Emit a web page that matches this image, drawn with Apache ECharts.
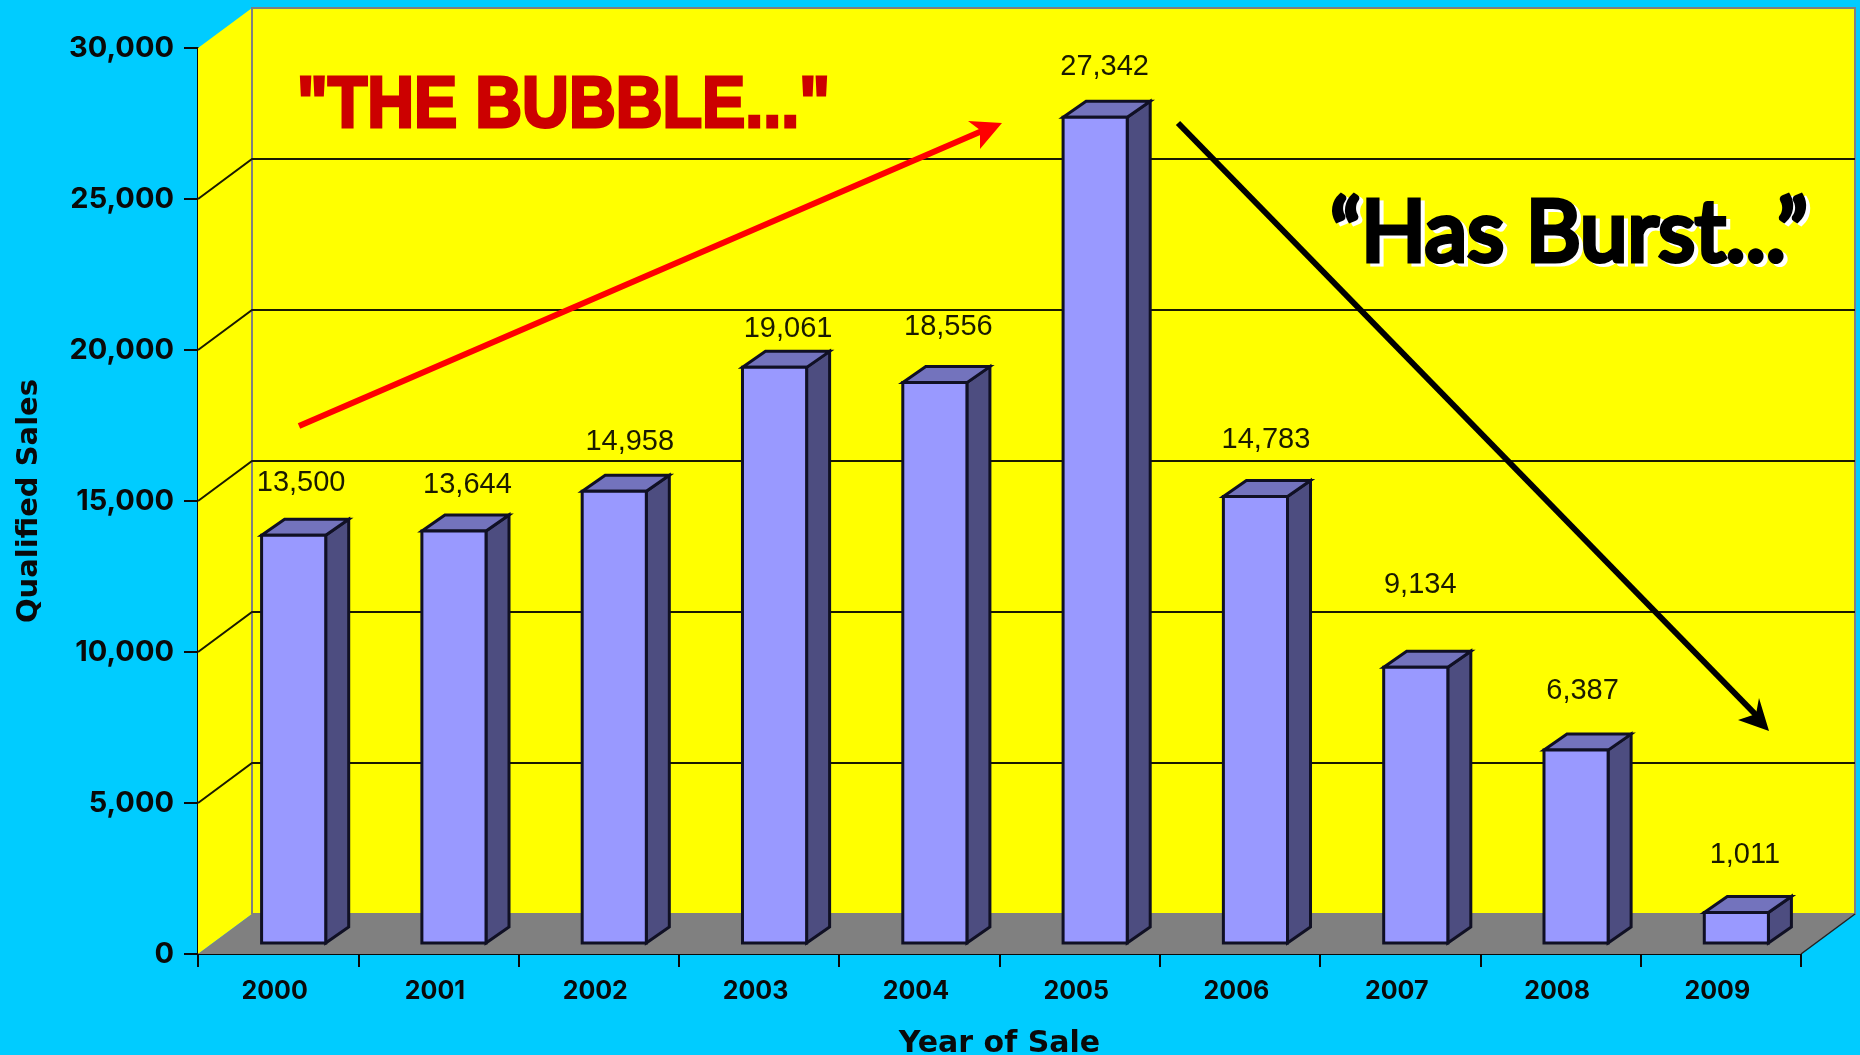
<!DOCTYPE html>
<html>
<head>
<meta charset="utf-8">
<title>Qualified Sales by Year of Sale</title>
<style>html,body{margin:0;padding:0;background:#00ccff}#chart{width:1860px;height:1055px}</style>
<script src="https://cdn.jsdelivr.net/npm/echarts@6/dist/echarts.min.js"></script>
</head>
<body>
<div id="chart"></div>
<script>
// Yearly figures
const years = ['2000','2001','2002','2003','2004','2005','2006','2007','2008','2009'];
const sales = [13500,13644,14958,19061,18556,27342,14783,9134,6387,1011];
const yTicks = [0,5000,10000,15000,20000,25000,30000];

// Hand placement of each value label: sideways shift and lift above the bar's top face
const labelShift = [-4,2,4,2,2,-2,-1,-7,-5,-3];
const labelLift  = [36,30,33,22,40,34,41,66,43,41];

// Pseudo-3D projection of the plot box, in pixels
const depthX = 54, depthY = 40;
const barInsetX = 15, barInsetY = 11, barDepthX = 23, barDepthY = 16;
const edge = '#101024';

function pts(list) { return { points: list }; }

function renderWalls(params, api) {
  const c = params.coordSys;
  const l = c.x, r = c.x + c.width, t = c.y, b = c.y + c.height;
  const wall = { fill: '#ffff00' };
  return { type: 'group', children: [
    { type: 'rect', shape: { x: l + depthX, y: t - depthY, width: c.width, height: c.height }, style: { fill: '#ffff00', stroke: '#808080', lineWidth: 2 } },
    { type: 'polygon', shape: pts([[l, t], [l + depthX, t - depthY], [l + depthX, b - depthY], [l, b]]), style: wall },
    { type: 'line', shape: { x1: l + depthX, y1: t - depthY, x2: l + depthX, y2: b - depthY }, style: { stroke: '#808080', lineWidth: 2 } },
    { type: 'polygon', shape: pts([[l, b], [r, b], [r + depthX, b - depthY], [l + depthX, b - depthY]]), style: { fill: '#808080' } },
    { type: 'line', shape: { x1: r, y1: b, x2: r + depthX, y2: b - depthY }, style: { stroke: '#222', lineWidth: 1.5 } }
  ] };
}

function renderGridLine(params, api) {
  const c = params.coordSys;
  const y = api.coord([0, api.value(1)])[1];
  const l = c.x, r = c.x + c.width;
  return { type: 'polyline', shape: pts([[l, y], [l + depthX, y - depthY], [r + depthX, y - depthY]]),
           style: { stroke: '#1a1a00', lineWidth: 2, fill: null } };
}

function renderBar(params, api) {
  const i = api.value(0);
  const p = api.coord([i, api.value(1)]);
  const base = api.coord([i, 0]);
  const w = api.size([1, 0])[0] * 0.4;
  const x0 = p[0] - w / 2 + barInsetX + 0.5, x1 = x0 + w;
  const yT = p[1] - barInsetY, yB = base[1] - barInsetY;
  const dx = barDepthX, dy = barDepthY;
  const line = { stroke: edge, lineWidth: 3, lineJoin: 'miter' };
  return { type: 'group', children: [
    { type: 'polygon', shape: pts([[x1, yB], [x1 + dx, yB - dy], [x1 + dx, yT - dy], [x1, yT]]), style: { fill: '#4d4d80', ...line } },
    { type: 'polygon', shape: pts([[x0, yT], [x1, yT], [x1 + dx, yT - dy], [x0 + dx, yT - dy]]), style: { fill: '#7373bd', ...line } },
    { type: 'rect', shape: { x: x0, y: yT, width: w, height: yB - yT }, style: { fill: '#9999ff', ...line } },
    { type: 'text', style: {
        x: (x0 + x1) / 2 + dx / 2 + labelShift[i],
        y: yT - dy - labelLift[i],
        text: api.value(1).toLocaleString('en-US'),
        font: '29px "Liberation Sans"', fill: '#1a1a00', align: 'center', verticalAlign: 'middle' } }
  ] };
}

const axisFont = { fontFamily: 'Inter', fontWeight: 700, color: '#0a0a0a' };
const titleFont = { fontFamily: 'DejaVu Sans', fontWeight: 700, color: '#0a0a0a' };
const axisLine = { show: true, lineStyle: { color: '#0a0a0a', width: 2 } };

const chart = echarts.init(document.getElementById('chart'), null, { renderer: 'canvas' });
chart.setOption({
  animation: false,
  backgroundColor: '#00ccff',
  grid: { left: 198, right: 59, top: 48, bottom: 101, outerBoundsMode: 'none' },
  xAxis: {
    type: 'category', data: years, boundaryGap: true,
    name: 'Year of Sale', nameLocation: 'middle', nameGap: 75,
    nameTextStyle: { ...titleFont, fontSize: 30 },
    axisLine, axisTick: { show: true, length: 13, lineStyle: { color: '#0a0a0a', width: 2 } },
    axisLabel: { ...axisFont, fontSize: 25, margin: 25, padding: [0, 7, 0, 0] },
    splitLine: { show: false }
  },
  yAxis: {
    type: 'value', min: 0, max: 30000, interval: 5000,
    name: 'Qualified Sales', nameLocation: 'middle', nameRotate: 90, nameGap: 154,
    nameTextStyle: { ...titleFont, fontSize: 29 },
    axisLine, axisTick: { show: true, length: 14, lineStyle: { color: '#0a0a0a', width: 2 } },
    axisLabel: { ...axisFont, fontSize: 29, margin: 24,
      formatter: v => v.toLocaleString('en-US') },
    splitLine: { show: false }
  },
  series: [
    { type: 'custom', name: 'walls', data: [[0, 0]], encode: { x: 0, y: 1 }, renderItem: renderWalls, clip: false, silent: true, z: 1 },
    { type: 'custom', name: 'gridlines', data: yTicks.slice(1, -1).map(v => [0, v]), encode: { x: 0, y: 1 }, renderItem: renderGridLine, clip: false, silent: true, z: 2 },
    { type: 'custom', name: 'Qualified Sales', data: sales.map((v, i) => [i, v]), encode: { x: 0, y: 1 }, renderItem: renderBar, clip: false, z: 3 }
  ],
  graphic: { elements: [
    // Rising arrow and its caption
    { type: 'polyline', z: 20, shape: pts([[299, 426], [982, 131]]), style: { stroke: '#ff0000', lineWidth: 6, fill: null } },
    { type: 'polygon', z: 20, shape: pts([[1002, 123], [968, 121], [980, 130], [980, 149]]), style: { fill: '#ff0000' } },
    { type: 'text', z: 20, x: 297, y: 71, scaleX: 0.9, style: { text: '"THE BUBBLE..."', font: 'bold 72px "Liberation Sans"', fill: '#cc0000', stroke: '#cc0000', lineWidth: 3 } },
    // Falling arrow and its caption
    { type: 'polyline', z: 20, shape: pts([[1178, 123], [1757, 716]]), style: { stroke: '#000000', lineWidth: 6, fill: null } },
    { type: 'polygon', z: 20, shape: pts([[1769, 731], [1759, 698], [1756, 714], [1738, 720]]), style: { fill: '#000000' } },
    { type: 'text', z: 20, x: 1334, y: 193, scaleX: 0.99, style: { text: '\u201CHas Burst...\u201D', font: '86px "Lato"', fill: '#ffffff', stroke: '#ffffff', lineWidth: 5, lineJoin: 'round' } },
    { type: 'text', z: 21, x: 1330, y: 190, scaleX: 0.99, style: { text: '\u201CHas Burst...\u201D', font: '86px "Lato"', fill: '#000000', stroke: '#000000', lineWidth: 5, lineJoin: 'round' } }
  ] }
});
</script>
</body>
</html>
